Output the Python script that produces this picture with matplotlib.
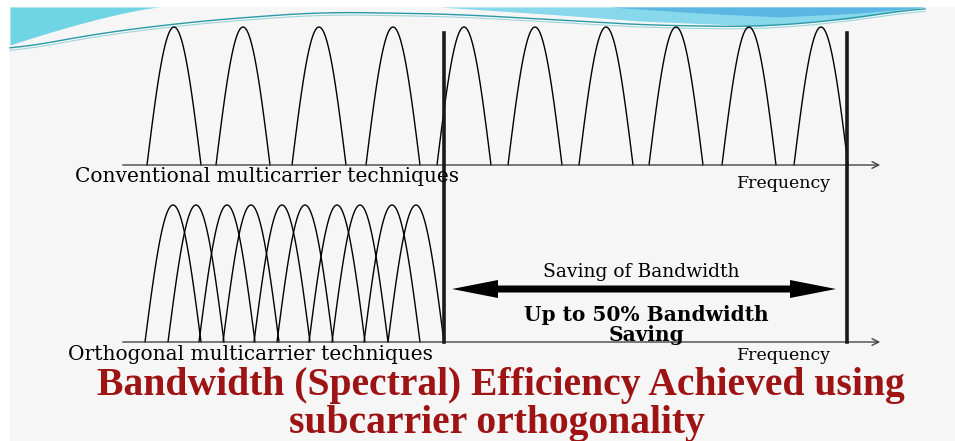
import numpy as np
import matplotlib.pyplot as plt
from matplotlib.patches import FancyArrow, Rectangle

# subcarrier centre positions (in picture pixels along the frequency axis)
conv_centers = [174, 243, 319, 393, 464, 535, 606, 676, 749, 821]
ortho_centers = [173, 196, 227, 251, 282, 305, 337, 360, 392, 416]

conv_label = "Conventional multicarrier techniques"
ortho_label = "Orthogonal multicarrier techniques"
freq_label = "Frequency"
saving_label = "Saving of Bandwidth"
saving_bold = "Up to 50% Bandwidth\nSaving"
title_lines = ["Bandwidth (Spectral) Efficiency Achieved using",
               "subcarrier orthogonality"]

W, H = 955, 441
fig = plt.figure(figsize=(W / 100, H / 100), dpi=100)
ax = fig.add_axes([0, 0, 1, 1])
ax.set_xlim(0, W)
ax.set_ylim(H, 0)
ax.axis("off")
fig.patch.set_facecolor("white")

# slide background
ax.add_patch(Rectangle((10, 7), W - 10, H - 7, color="#f6f6f6", zorder=0))

# decorative banner at the top
bx = np.linspace(10, 925, 400)
wave_x = [10, 100, 200, 320, 450, 560, 640, 760, 850, 925]
wave_y = [50, 33, 21, 12, 14, 20, 25, 27, 19, 7]
wy = np.interp(bx, wave_x, wave_y)
wy = np.convolve(np.pad(wy, 20, mode="edge"), np.ones(41) / 41, mode="valid")
lx = np.linspace(10, 160, 60)
ly = 7 + 38 * ((160 - lx) / 150) ** 1.3
ax.fill_between(lx, 7, ly, color="#6fd4e4", lw=0, zorder=1)
rx = np.linspace(440, 925, 200)
ry = np.interp(rx, [440, 560, 640, 760, 850, 925], [7, 15, 21, 26, 19, 7])
ax.fill_between(rx, 7, ry, color="#86d8ea", lw=0, zorder=1)
rx2 = np.linspace(610, 925, 200)
ry2 = np.interp(rx2, [610, 700, 780, 860, 925], [7, 13, 17, 13, 7])
ax.fill_between(rx2, 7, ry2, color="#5cb6e4", lw=0, zorder=1)
ax.plot(bx, wy, color="#2a9aa8", lw=1.0, zorder=2)
ax.plot(bx, wy + 2.5, color="#9fd6dc", lw=0.8, zorder=2)


def lobe(c, half, base, peak):
    x = np.linspace(c - half, c + half, 80)
    y = base - (base - peak) * np.cos(np.pi * (x - c) / (2 * half))
    return x, y


# conventional (non-overlapping) subcarriers
for c in conv_centers:
    x, y = lobe(c, 27, 165, 27)
    ax.plot(x, y, color="black", lw=1.0, zorder=3)

# orthogonal (overlapping) subcarriers
for c in ortho_centers:
    x, y = lobe(c, 28, 342, 205)
    ax.plot(x, y, color="black", lw=1.0, zorder=3)

# frequency axes
for yb in (165, 342):
    ax.annotate("", xy=(883, yb), xytext=(120, yb),
                arrowprops=dict(arrowstyle="->", color="#444444", lw=1.0,
                                mutation_scale=12), zorder=3)

# band limits
for xb in (444, 847):
    ax.plot([xb, xb], [33, 342], color="#1a1a1a", lw=2.6, zorder=4)

serif = "DejaVu Serif"
ax.text(75, 176, conv_label, fontsize=14.5, family=serif, va="center", ha="left", zorder=5)
ax.text(68, 354, ortho_label, fontsize=14.5, family=serif, va="center", ha="left", zorder=5)
ax.text(737, 183, freq_label, fontsize=12.5, family=serif, va="center", ha="left", zorder=5)
ax.text(737, 356, freq_label, fontsize=12.5, family=serif, va="center", ha="left", zorder=5)

# double-headed saving arrow
mid = (452 + 836) / 2
for end in (452, 836):
    ax.add_patch(FancyArrow(mid, 289, end - mid, 0, width=7, head_width=18,
                            head_length=46, length_includes_head=True,
                            color="black", lw=0, zorder=5))
ax.text(641, 272, saving_label, fontsize=13.5, family=serif, ha="center", va="center", zorder=5)
ax.text(646, 325, saving_bold, fontsize=14.5, family=serif, weight="bold",
        ha="center", va="center", linespacing=1.05, zorder=5)

# title
ax.text(501, 385, title_lines[0], fontsize=28.5, family="Liberation Serif", weight="bold",
        color="#9e1414", ha="center", va="center", zorder=5)
ax.text(497, 423, title_lines[1], fontsize=28.5, family="Liberation Serif", weight="bold",
        color="#9e1414", ha="center", va="center", zorder=5)

fig.savefig("out.png", dpi=100)
